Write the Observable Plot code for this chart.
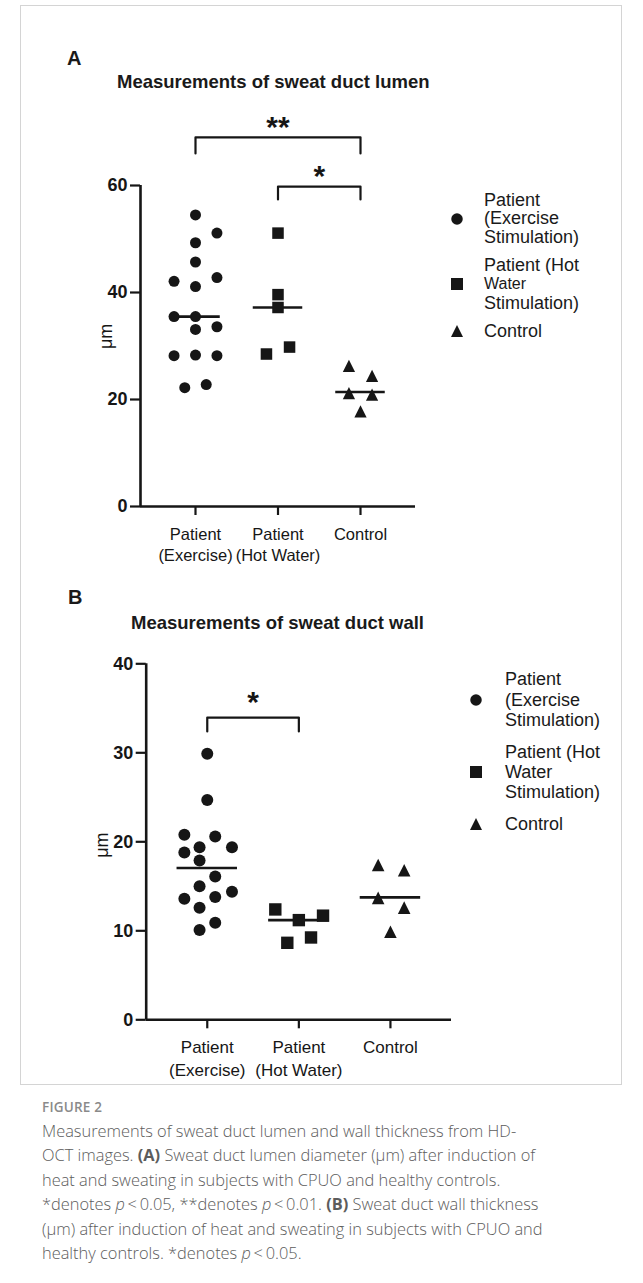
<!DOCTYPE html>
<html><head><meta charset="utf-8">
<script src="https://cdn.jsdelivr.net/npm/d3@7"></script>
<script src="https://cdn.jsdelivr.net/npm/@observablehq/plot@0.6"></script>
<style>
body{margin:0;background:#fff;}
#root{position:relative;width:643px;height:1283px;overflow:hidden;background:#fff;font-family:"Liberation Sans",Arial,sans-serif;color:#1a1a1a;}
.abs{position:absolute;white-space:nowrap;}
.frame{position:absolute;left:20px;top:5px;width:602px;height:1080px;border:1px solid #d4d4d4;box-sizing:border-box;}
.plabel{font-weight:bold;font-size:20px;line-height:24px;}
.ptitle{font-weight:bold;font-size:18.5px;line-height:22px;}
.leg{font-size:18px;}
.cap{font-family:"Open Sans",sans-serif;font-size:16.4px;font-weight:300;color:#5c5c5c;line-height:24.5px;}
.cap b{font-weight:700;}
.fig{font-family:"Open Sans",sans-serif;font-size:13.5px;font-weight:600;color:#8a8a8a;letter-spacing:0.2px;}
</style></head><body><div id="root"><div class="frame"></div></div>
<script>
// ---------- data ----------
const groups = ["Patient (Exercise)", "Patient (Hot Water)", "Control"];
const tickLabels = ["Patient\n(Exercise)", "Patient\n(Hot Water)", "Control"];
const lumenTicks = [0, 20, 40, 60];
const wallTicks = [0, 10, 20, 30, 40];

// Panel A: lumen diameter (µm); jitter = horizontal offset (category units)
const lumenExercise = [54.5, 51.1, 49.3, 45.7, 42.1, 42.8, 41.1, 35.5, 35.5, 33.1, 33.6, 28.2, 28.3, 28.2, 22.2, 22.8];
const lumenExerciseJitter = [0, 0.26, 0, 0, -0.26, 0.26, 0, -0.26, 0, 0, 0.26, -0.26, 0, 0.26, -0.13, 0.13];
const lumenHot = [51.1, 39.6, 37.2, 28.5, 29.8];
const lumenHotJitter = [0, 0, 0, -0.14, 0.14];
const lumenControl = [26.3, 24.4, 21.2, 20.9, 17.8];
const lumenControlJitter = [-0.14, 0.14, -0.14, 0.14, 0];
const lumenMedians = [35.5, 37.2, 21.4];
const lumenBrackets = [
  {from: 0, to: 2, y: 69, leg: 66, star: 72.2, label: "**"},
  {from: 1, to: 2, y: 59.8, leg: 57.4, star: 63.0, label: "*"}
];

// Panel B: wall thickness (µm)
const wallExercise = [29.9, 24.7, 20.8, 20.6, 18.8, 19.4, 19.4, 17.9, 16.1, 15.0, 13.6, 13.8, 14.4, 12.6, 10.9, 10.1];
const wallExerciseJitter = [0, 0, -0.25, 0.087, -0.25, -0.084, 0.27, -0.084, 0.087, -0.084, -0.25, 0.087, 0.27, -0.084, 0.087, -0.084];
const wallHot = [12.4, 11.2, 11.7, 8.65, 9.25];
const wallHotJitter = [-0.257, 0, 0.264, -0.126, 0.133];
const wallControl = [17.4, 16.8, 13.7, 12.6, 9.9];
const wallControlJitter = [-0.134, 0.15, -0.134, 0.15, 0];
const wallMedians = [17.05, 11.2, 13.75];
const wallBrackets = [
  {from: 0, to: 1, y: 33.96, leg: 32.4, star: 36.4, label: "*"}
];

const legendLabels = [["Patient", "(Exercise", "Stimulation)"], ["Patient (Hot", "Water", "Stimulation)"], ["Control"]];

// ---------- helpers ----------
const ink = "#161616";
const triangle = {draw(ctx, size) {const h = Math.sqrt(size); ctx.moveTo(0, -h / 2); ctx.lineTo(h / 2, h / 2); ctx.lineTo(-h / 2, h / 2); ctx.closePath();}};
const rows = (vals, jit, gi) => vals.map((v, i) => ({x: gi + jit[i], y: v}));

function panel(cfg) {
  const xd = [-2 / 3, 2 + 2 / 3];
  const marks = [
    Plot.ruleX([xd[0]], {y1: 0, y2: cfg.ymax, stroke: ink, strokeWidth: 2.6}),
    Plot.ruleY([0], {x1: xd[0], x2: xd[1], stroke: ink, strokeWidth: 2.6}),
    Plot.axisY({ticks: cfg.ticks, tickSize: 10, tickPadding: 3, fontSize: 18, fontWeight: "bold", stroke: ink, strokeWidth: 2.2, label: null}),
    Plot.axisX({ticks: [0, 1, 2], tickFormat: i => tickLabels[i], tickSize: 9, tickPadding: 9, fontSize: cfg.xfs, lineHeight: 1.3, stroke: ink, strokeWidth: 2.2, label: null}),
    Plot.text(["μm"], {frameAnchor: "left", rotate: -90, dx: cfg.ldx, dy: cfg.ldy, text: d => d, fontSize: 18, fill: ink}),
    Plot.ruleY(cfg.medians, {y: d => d, x1: (d, i) => i - cfg.half, x2: (d, i) => i + cfg.half, stroke: ink, strokeWidth: 2.6}),
    Plot.dot(rows(cfg.data[0][0], cfg.data[0][1], 0), {x: "x", y: "y", r: cfg.rc, symbol: "circle", fill: ink, stroke: "none"}),
    Plot.dot(rows(cfg.data[1][0], cfg.data[1][1], 1), {x: "x", y: "y", r: cfg.rs, symbol: "square", fill: ink, stroke: "none"}),
    Plot.dot(rows(cfg.data[2][0], cfg.data[2][1], 2), {x: "x", y: "y", r: cfg.rt, symbol: triangle, fill: ink, stroke: "none"})
  ];
  for (const b of cfg.brackets) {
    marks.push(Plot.line([{x: b.from, y: b.leg}, {x: b.from, y: b.y}, {x: b.to, y: b.y}, {x: b.to, y: b.leg}], {x: "x", y: "y", stroke: ink, strokeWidth: 2.2, curve: "linear"}));
    marks.push(Plot.text([b], {x: d => (d.from + d.to) / 2, y: "star", text: "label", fontSize: 30, fontWeight: "bold", fill: ink, dy: 7}));
  }
  const svg = Plot.plot({
    width: 643, height: cfg.height,
    marginLeft: cfg.ml, marginRight: cfg.mr, marginTop: cfg.mt, marginBottom: cfg.mb,
    x: {domain: xd},
    y: {domain: [0, cfg.ymax]},
    style: {fontFamily: '"Liberation Sans", Arial, sans-serif', color: ink, background: "transparent", overflow: "visible"},
    marks
  });
  svg.style.position = "absolute";
  svg.style.left = "0px";
  svg.style.top = cfg.top + "px";
  return svg;
}

const root = document.getElementById("root");
function addDiv(cls, left, top, html, extra) {
  const d = document.createElement("div");
  d.className = "abs " + cls;
  d.style.left = left + "px"; d.style.top = top + "px";
  if (extra) Object.assign(d.style, extra);
  d.innerHTML = html; root.appendChild(d); return d;
}

// Panel A: y60 at 185, y0 at 506, x axis 140..415
root.appendChild(panel({
  top: 100, height: 480, ml: 140, mr: 643 - 415, mt: 85, mb: 480 - 406,
  ymax: 60, ticks: lumenTicks, medians: lumenMedians, half: 0.3, brackets: lumenBrackets,
  data: [[lumenExercise, lumenExerciseJitter], [lumenHot, lumenHotJitter], [lumenControl, lumenControlJitter]],
  rc: 5.5, rs: 6.5, rt: 6.9, xfs: 16.5, ldx: -34, ldy: 3
}));
// Panel B: y40 at 663.3, y0 at 1019.3, x axis 145.7..451
root.appendChild(panel({
  top: 640, height: 440, ml: 145.7, mr: 643 - 451, mt: 23.3, mb: 440 - 379.3,
  ymax: 40, ticks: wallTicks, medians: wallMedians, half: 0.33, brackets: wallBrackets,
  data: [[wallExercise, wallExerciseJitter], [wallHot, wallHotJitter], [wallControl, wallControlJitter]],
  rc: 6, rs: 7, rt: 7.1, xfs: 17, ldx: -44, ldy: 16
}));

// panel letters and titles
addDiv("plabel", 67, 46, "A");
addDiv("ptitle", 117, 71, "Measurements of sweat duct lumen");
addDiv("plabel", 68, 585, "B");
addDiv("ptitle", 131, 612, "Measurements of sweat duct wall");

// legends
function marker(kind, cx, cy, s) {
  const ns = "http://www.w3.org/2000/svg";
  const svg = document.createElementNS(ns, "svg");
  svg.setAttribute("width", 20); svg.setAttribute("height", 20);
  svg.style.position = "absolute"; svg.style.left = (cx - 10) + "px"; svg.style.top = (cy - 10) + "px";
  let el;
  if (kind === 0) { el = document.createElementNS(ns, "circle"); el.setAttribute("cx", 10); el.setAttribute("cy", 10); el.setAttribute("r", s / 2); }
  else if (kind === 1) { el = document.createElementNS(ns, "rect"); el.setAttribute("x", 10 - s / 2); el.setAttribute("y", 10 - s / 2); el.setAttribute("width", s); el.setAttribute("height", s); }
  else { el = document.createElementNS(ns, "path"); el.setAttribute("d", `M10,${10 - s / 2}L${10 + s / 2},${10 + s / 2}L${10 - s / 2},${10 + s / 2}Z`); }
  el.setAttribute("fill", ink); svg.appendChild(el); root.appendChild(svg);
}
function legend(mx, tx, lh, firstLines, markerYs, smallWater) {
  legendLabels.forEach((lines, gi) => {
    const html = lines.map(l => (smallWater && l === "Water") ? `<span style="font-size:16px">${l}</span>` : l).join("<br>");
    addDiv("leg", tx, firstLines[gi] - lh / 2, html, {lineHeight: lh + "px"});
    marker(gi, mx, markerYs[gi], gi === 0 ? 11.5 : 12);
  });
}
legend(457, 484, 18.7, [200, 265, 331], [218.5, 284, 331], true);
legend(476, 505, 20.3, [679.5, 751.7, 824], [699.5, 771.7, 824], false);

// caption
addDiv("fig", 42, 1098, "FIGURE 2");
const capLines = [
  "Measurements of sweat duct lumen and wall thickness from HD-",
  "OCT images. <b>(A)</b> Sweat duct lumen diameter (μm) after induction of",
  "heat and sweating in subjects with CPUO and healthy controls.",
  "*denotes <i>p</i>&#8201;&lt;&#8201;0.05, **denotes <i>p</i>&#8201;&lt;&#8201;0.01. <b>(B)</b> Sweat duct wall thickness",
  "(μm) after induction of heat and sweating in subjects with CPUO and",
  "healthy controls. *denotes <i>p</i>&#8201;&lt;&#8201;0.05."
];
addDiv("cap", 42, 1131 - 12.25, capLines.join("<br>"));
</script></body></html>
